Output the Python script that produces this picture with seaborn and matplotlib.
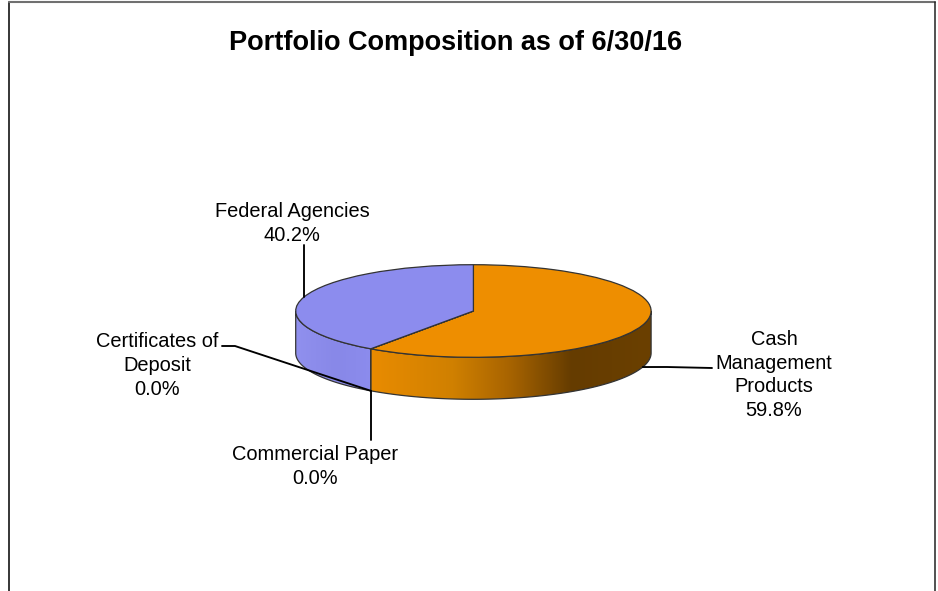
import numpy as np
import matplotlib
matplotlib.use("Agg")
import matplotlib.pyplot as plt
from matplotlib.colors import LinearSegmentedColormap
from matplotlib.patches import Polygon
from matplotlib.lines import Line2D
import seaborn as sns

categories = ["Cash Management Products", "Commercial Paper", "Certificates of Deposit", "Federal Agencies"]
values = [59.8, 0.0, 0.0, 40.2]
label_texts = ["Cash\nManagement\nProducts\n59.8%", "Commercial Paper\n0.0%",
               "Certificates of\nDeposit\n0.0%", "Federal Agencies\n40.2%"]
title = "Portfolio Composition as of 6/30/16"
slice_colors = ["#EE8E00", "#EE8E00", "#8C8CEE", "#8C8CEE"]

W, H = 938, 591
CX, CY, RX, RY, DEPTH = 473.4, 311.0, 177.7, 46.3, 42.0

sns.set_theme(style="white")
plt.rcParams["font.family"] = ["Liberation Sans", "DejaVu Sans"]

fig = plt.figure(figsize=(W / 100, H / 100), dpi=100, facecolor="white")
ax = fig.add_axes([0, 0, 1, 1])

def px(x, y):
    return (x / W, 1 - y / H)

# top face
ax.pie(values, colors=slice_colors, startangle=90, counterclock=False, radius=1,
       wedgeprops=dict(edgecolor="#333333", linewidth=0.9, zorder=3))

d = DEPTH / RY
angles = 360 * np.cumsum([0] + values) / sum(values)

wall_cmaps = [
    LinearSegmentedColormap.from_list("o", [(0, "#EA8C00"), (0.3, "#D08000"), (0.5, "#A86400"),
                                            (0.72, "#653C00"), (1, "#6B4000")]),
    None, None,
    LinearSegmentedColormap.from_list("b", [(0, "#9090EE"), (0.5, "#8888E8"), (1, "#8C8CEE")]),
]
extents = [(-0.6, 1.0), None, None, (-1.0, -0.55)]
for i in range(len(values)):
    a0, a1 = max(angles[i], 90), min(angles[i + 1], 270)
    if a1 <= a0 or wall_cmaps[i] is None:
        continue
    t = np.radians(np.linspace(a0, a1, 200))
    x, y = np.sin(t), np.cos(t)
    poly = np.column_stack([np.r_[x, x[::-1]], np.r_[y, (y - d)[::-1]]])
    patch = Polygon(poly, closed=True, facecolor="none", edgecolor="#333333", linewidth=0.9, zorder=2)
    ax.add_patch(patch)
    im = ax.imshow(np.linspace(0, 1, 256)[None, :], cmap=wall_cmaps[i], aspect="auto",
                   extent=(extents[i][0], extents[i][1], -2.2, 0.2), zorder=1)
    im.set_clip_path(patch)

ax.set_aspect("auto")
ax.set_xlim(-CX / RX, (W - CX) / RX)
ax.set_ylim((CY - H) / RY, CY / RY)
ax.set_frame_on(False)
ax.set_xticks([])
ax.set_yticks([])

def to_px(angle, drop=0.0):
    t = np.radians(angle)
    return CX + RX * np.sin(t), CY - RY * np.cos(t) + drop

def leader(pts):
    xs, ys = zip(*[px(*p) for p in pts])
    fig.add_artist(Line2D(xs, ys, color="black", lw=1.35, zorder=5))

mid = (angles[:-1] + angles[1:]) / 2
leader([to_px(mid[0], DEPTH), (667, 367), (712, 368)])
e = to_px(mid[1], DEPTH)
leader([e, (e[0], 440)])
leader([to_px(mid[2], DEPTH), (235, 346), (222, 346)])
e = to_px(mid[3])
leader([e, (e[0], 245)])

label_pos = [(774, 375), (315, 466.5), (157, 365.5), (292, 223.5)]
for s, (lx, ly) in zip(label_texts, label_pos):
    fig.text(*px(lx, ly), s, ha="center", va="center", fontsize=14.4, linespacing=1.33, color="black")

fig.text(*px(455.5, 43.5), title, ha="center", va="center", fontsize=19.55, fontweight="bold", color="black")

# chart border
fig.add_artist(Line2D(*zip(px(9, 591), px(9, 1.5)), color="black", lw=1.1))
fig.add_artist(Line2D(*zip(px(9, 1.5), px(934.5, 1.5)), color="#707070", lw=1.5))
fig.add_artist(Line2D(*zip(px(934.5, 1.5), px(934.5, 591)), color="#222222", lw=1.1))

fig.savefig("out.png", dpi=100, facecolor="white")
